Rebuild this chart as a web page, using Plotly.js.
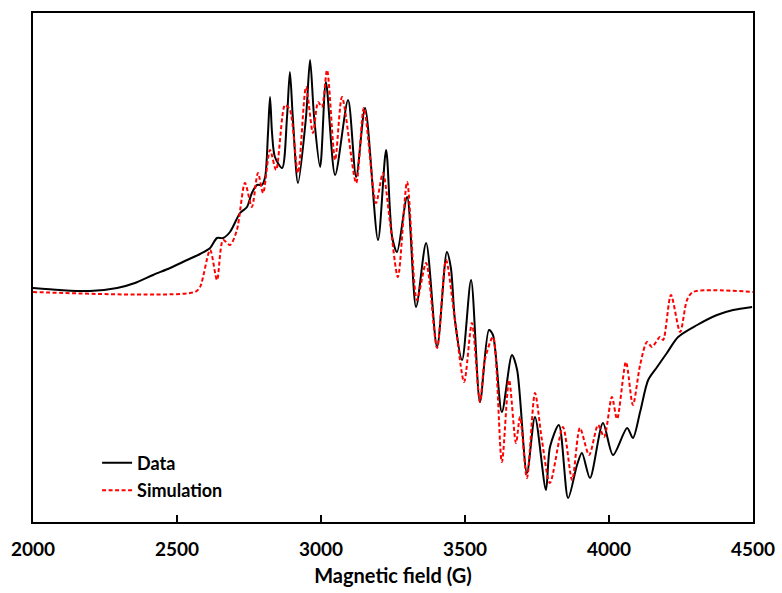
<!DOCTYPE html>
<html>
<head>
<meta charset="utf-8">
<script src="https://cdn.plot.ly/plotly-3.0.1.min.js"></script>
<style>html,body{margin:0;padding:0;background:#fff;}#chart{width:782px;height:593px;}</style>
</head>
<body>
<div id="chart"></div>
<script>
// Data (measured spectrum), magnetic field in G, intensity in arbitrary units
const dataField = [2000,2094,2198,2292,2354,2417,2476,2535,2580,2615,2639,2660,2684,2719,2743,2760,2778,2795,2806,2816,2823,2830,2840,2865,2882,2892,2902,2920,2948,2962,2976,2997,3017,3049,3094,3122,3153,3198,3226,3247,3264,3299,3330,3365,3403,3437,3451,3465,3490,3521,3552,3583,3597,3628,3663,3681,3715,3743,3781,3795,3826,3858,3889,3906,3934,3979,4014,4063,4083,4108,4136,4167,4201,4240,4306,4375,4431,4497];
const dataInt   = [4,2,1,4,9,17,24,32,38,44,54,54,60,79,85,99,107,107,115,159,195,159,135,124,175,220,175,109,175,232,175,125,210,117,192,115,184,52,142,55,40,95,-15,49,-55,40,24,-28,-68,12,-110,-38,-43,-120,-63,-78,-181,-125,-198,-155,-133,-206,-173,-161,-186,-131,-163,-136,-146,-120,-88,-75,-61,-45,-33,-23,-18,-15];

// Simulation
const simField = [2000,2562,2580,2615,2639,2660,2684,2708,2736,2760,2781,2799,2823,2844,2875,2892,2920,2948,2972,2990,3003,3021,3049,3073,3122,3149,3191,3215,3240,3267,3299,3333,3365,3403,3434,3465,3497,3524,3552,3569,3597,3628,3653,3677,3691,3715,3743,3767,3795,3840,3872,3899,3931,3962,3983,4010,4028,4059,4083,4108,4132,4149,4177,4188,4215,4247,4271,4292,4500];
const simInt   = [0,0,5,42,12,52,47,62,109,85,119,99,142,122,187,182,119,205,159,190,185,222,132,195,109,184,89,119,69,15,110,-8,29,-56,32,-28,-90,-31,-110,-68,-45,-170,-88,-151,-125,-186,-101,-148,-191,-135,-188,-136,-163,-133,-145,-105,-127,-70,-113,-73,-50,-55,-45,-48,-3,-40,-8,0,0];

const xTicks = [2000,2500,3000,3500,4000,4500];
const seriesNames = ["Data","Simulation"];

const font = "Lato, 'Open Sans', sans-serif";

const traces = [
  {x: dataField, y: dataInt, name: seriesNames[0], legendgroup: "a", type: "scatter", mode: "lines",
   line: {color: "#000000", width: 2, shape: "spline", smoothing: 0.8}},
  {x: simField, y: simInt, name: seriesNames[1], legendgroup: "b", type: "scatter", mode: "lines",
   line: {color: "#ff0000", width: 2, dash: "4px,2.5px", shape: "spline", smoothing: 0.8}}
];

const layout = {
  width: 782, height: 593,
  margin: {l: 33, r: 29, t: 13, b: 71},
  paper_bgcolor: "#ffffff", plot_bgcolor: "#ffffff",
  showlegend: true,
  legend: {x: 0.089, y: 0.152, xanchor: "left", yanchor: "top",
           traceorder: "grouped", tracegroupgap: 1,
           font: {family: font, size: 18, color: "#000", weight: "bold"},
           bgcolor: "rgba(0,0,0,0)", itemwidth: 30},
  xaxis: {
    range: [2000, 4500], tickvals: xTicks, ticktext: xTicks.map(String),
    ticks: "inside", ticklen: 7, tickwidth: 1.5, tickcolor: "#000",
    ticklabelstandoff: 9,
    showline: true, linecolor: "#000", linewidth: 2, mirror: true,
    showgrid: false, zeroline: false,
    tickfont: {family: font, size: 19, color: "#000", weight: "bold"},
    title: {text: "Magnetic field (G)", font: {family: font, size: 20, color: "#000", weight: "bold"}, standoff: 10}
  },
  yaxis: {
    range: [-230, 279], showticklabels: false, ticks: "",
    showline: true, linecolor: "#000", linewidth: 2, mirror: true,
    showgrid: false, zeroline: false
  }
};

Plotly.newPlot("chart", traces, layout, {displayModeBar: false, staticPlot: true});
</script>
</body>
</html>
